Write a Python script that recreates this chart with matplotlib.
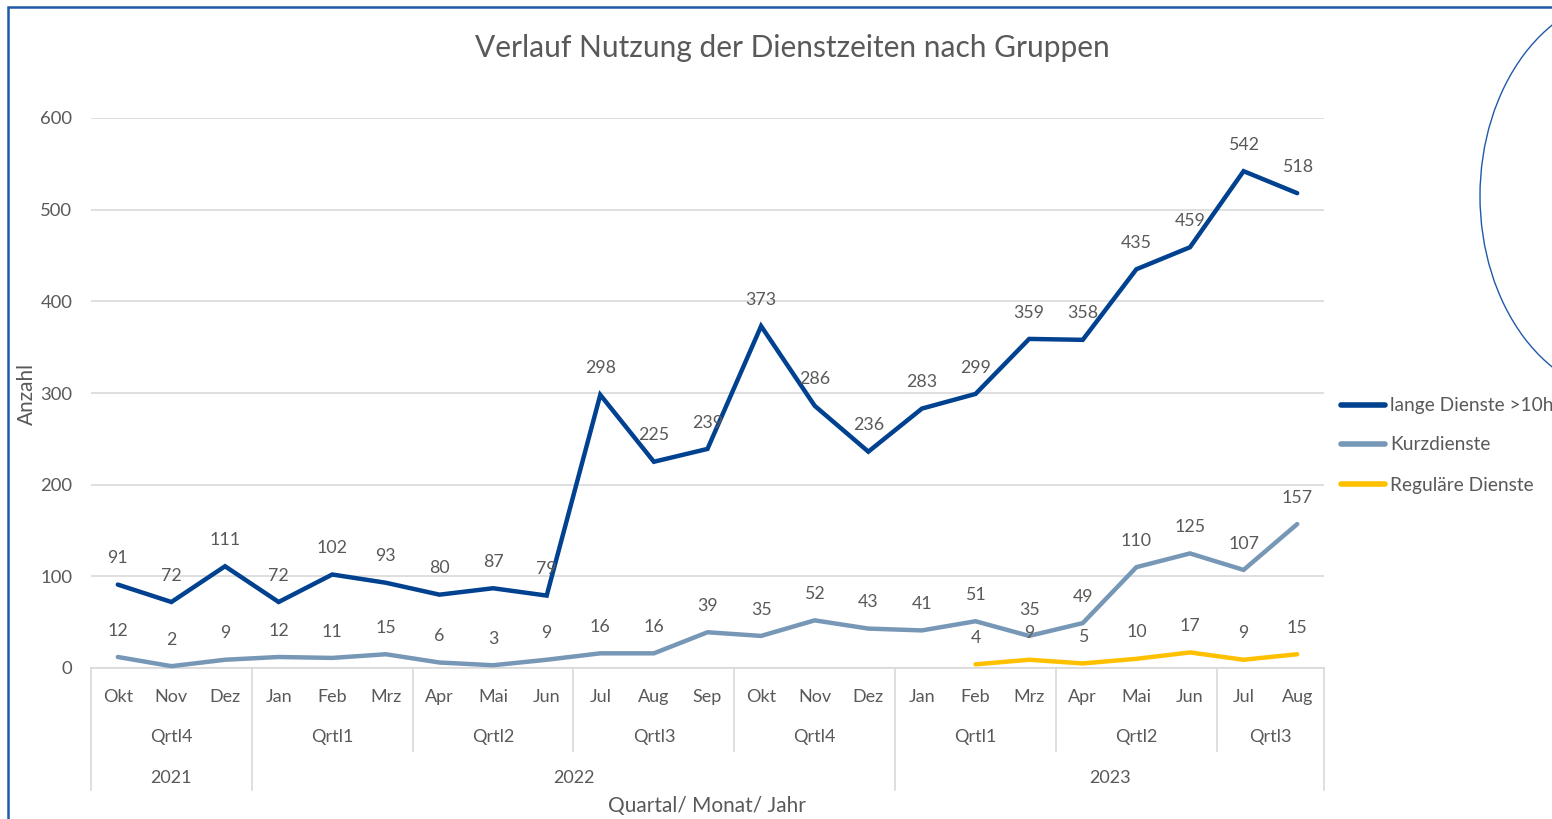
import matplotlib
matplotlib.use("Agg")
import matplotlib.pyplot as plt
from matplotlib.patches import Ellipse, Rectangle
from matplotlib.lines import Line2D
import matplotlib.transforms as mtransforms

plt.rcParams['font.family'] = ['Lato', 'DejaVu Sans']

months = ["Okt", "Nov", "Dez", "Jan", "Feb", "Mrz", "Apr", "Mai", "Jun", "Jul", "Aug", "Sep",
          "Okt", "Nov", "Dez", "Jan", "Feb", "Mrz", "Apr", "Mai", "Jun", "Jul", "Aug"]
quarters = ["Qrtl4"] * 3 + ["Qrtl1"] * 3 + ["Qrtl2"] * 3 + ["Qrtl3"] * 3 + ["Qrtl4"] * 3 + \
           ["Qrtl1"] * 3 + ["Qrtl2"] * 3 + ["Qrtl3"] * 2
years = ["2021"] * 3 + ["2022"] * 12 + ["2023"] * 8

lange = [91, 72, 111, 72, 102, 93, 80, 87, 79, 298, 225, 239, 373, 286, 236, 283, 299, 359, 358, 435, 459, 542, 518]
kurz = [12, 2, 9, 12, 11, 15, 6, 3, 9, 16, 16, 39, 35, 52, 43, 41, 51, 35, 49, 110, 125, 107, 157]
regulaer = [None] * 16 + [4, 9, 5, 10, 17, 9, 15]

series_names = ["lange Dienste >10h", "Kurzdienste", "Reguläre Dienste"]
series_colors = ["#004190", "#7797B6", "#FFC000"]

W, H = 1552, 819
fig = plt.figure(figsize=(W / 100, H / 100), dpi=100)
fig.patch.set_facecolor("white")

def fy(py):
    return 1 - py / H

def fx(px):
    return px / W

ax_l, ax_r, ax_t, ax_b = 91, 1324, 118, 668
ax = fig.add_axes([fx(ax_l), fy(ax_b), fx(ax_r - ax_l), (ax_b - ax_t) / H])

n = len(months)
x = list(range(n))
TXT = "#595959"
GRID = "#D9D9D9"

all_series = [lange, kurz, regulaer]
for vals, name, col in zip(all_series, series_names, series_colors):
    xs = [i for i, v in zip(x, vals) if v is not None]
    ys = [v for v in vals if v is not None]
    ax.plot(xs, ys, color=col, lw=3.2, solid_joinstyle='miter', solid_capstyle='round', zorder=3, clip_on=False)
    for xi, yi in zip(xs, ys):
        ax.annotate(str(yi), (xi, yi), xytext=(0, 19), textcoords='offset points',
                    ha='center', va='center', fontsize=12.8, color=TXT, zorder=4)

ax.set_xlim(-0.5, n - 0.5)
ax.set_ylim(0, 600)
ax.set_yticks(range(0, 601, 100))
ax.yaxis.grid(True, color=GRID, lw=1.2)
ax.set_axisbelow(True)
for s in ["top", "right", "left"]:
    ax.spines[s].set_visible(False)
ax.spines["bottom"].set_color(GRID)
ax.spines["bottom"].set_linewidth(1.2)
ax.tick_params(axis='y', length=0, pad=13.5, labelsize=13.3, labelcolor=TXT)
ax.tick_params(axis='x', length=0)
ax.set_xticks([])

# multi-level category axis
tr = mtransforms.blended_transform_factory(ax.transData, fig.transFigure)
for i, m in enumerate(months):
    ax.text(i, fy(697), m, transform=tr, ha='center', va='center', fontsize=13, color=TXT)

q_keys = [y + q for y, q in zip(years, quarters)]
qg = []
start = 0
for i in range(1, n + 1):
    if i == n or q_keys[i] != q_keys[start]:
        qg.append((start, i - 1, quarters[start]))
        start = i
yg = []
start = 0
for i in range(1, n + 1):
    if i == n or years[i] != years[start]:
        yg.append((start, i - 1, years[start]))
        start = i

for a, b, lab in qg:
    ax.text((a + b) / 2, fy(737), lab, transform=tr, ha='center', va='center', fontsize=13, color=TXT)
for a, b, lab in yg:
    ax.text((a + b) / 2, fy(778), lab, transform=tr, ha='center', va='center', fontsize=13, color=TXT)

year_bounds = set([a - 0.5 for a, b, _ in yg] + [yg[-1][1] + 0.5])
q_bounds = set([a - 0.5 for a, b, _ in qg]) - year_bounds
for xb in sorted(year_bounds):
    ax.add_line(Line2D([xb, xb], [fy(668), fy(790)], transform=tr, color=GRID, lw=1.2, clip_on=False))
for xb in sorted(q_bounds):
    ax.add_line(Line2D([xb, xb], [fy(668), fy(751)], transform=tr, color=GRID, lw=1.2, clip_on=False))

# axis titles
fig.text(fx(707), fy(806), "Quartal/ Monat/ Jahr", ha='center', va='center', fontsize=15, color=TXT)
fig.text(fx(27), fy(394), "Anzahl", ha='center', va='center', rotation=90, fontsize=15, color=TXT)
fig.text(fx(792), fy(48), "Verlauf Nutzung der Dienstzeiten nach Gruppen", ha='center', va='center',
         fontsize=21.5, color=TXT)

# legend
leg_y = [405, 444, 484]
for name, col, py in zip(series_names, series_colors, leg_y):
    fig.add_artist(Line2D([fx(1341), fx(1385)], [fy(py), fy(py)], transform=fig.transFigure,
                          color=col, lw=4, solid_capstyle='round'))
    fig.text(fx(1390), fy(py + 1), name, ha='left', va='center', fontsize=13.8, color=TXT)

# frame and decorative ellipse
fig.add_artist(Rectangle((fx(8), fy(900)), fx(1700), (900 - 7) / H, transform=fig.transFigure,
                         fill=False, edgecolor="#1F5AA6", lw=1.8))
fig.add_artist(Ellipse((fx(1630), fy(196)), fx(300), 400 / H, transform=fig.transFigure,
                       fill=False, edgecolor="#1F5AA6", lw=1.0))

fig.savefig("out.png", dpi=100)
